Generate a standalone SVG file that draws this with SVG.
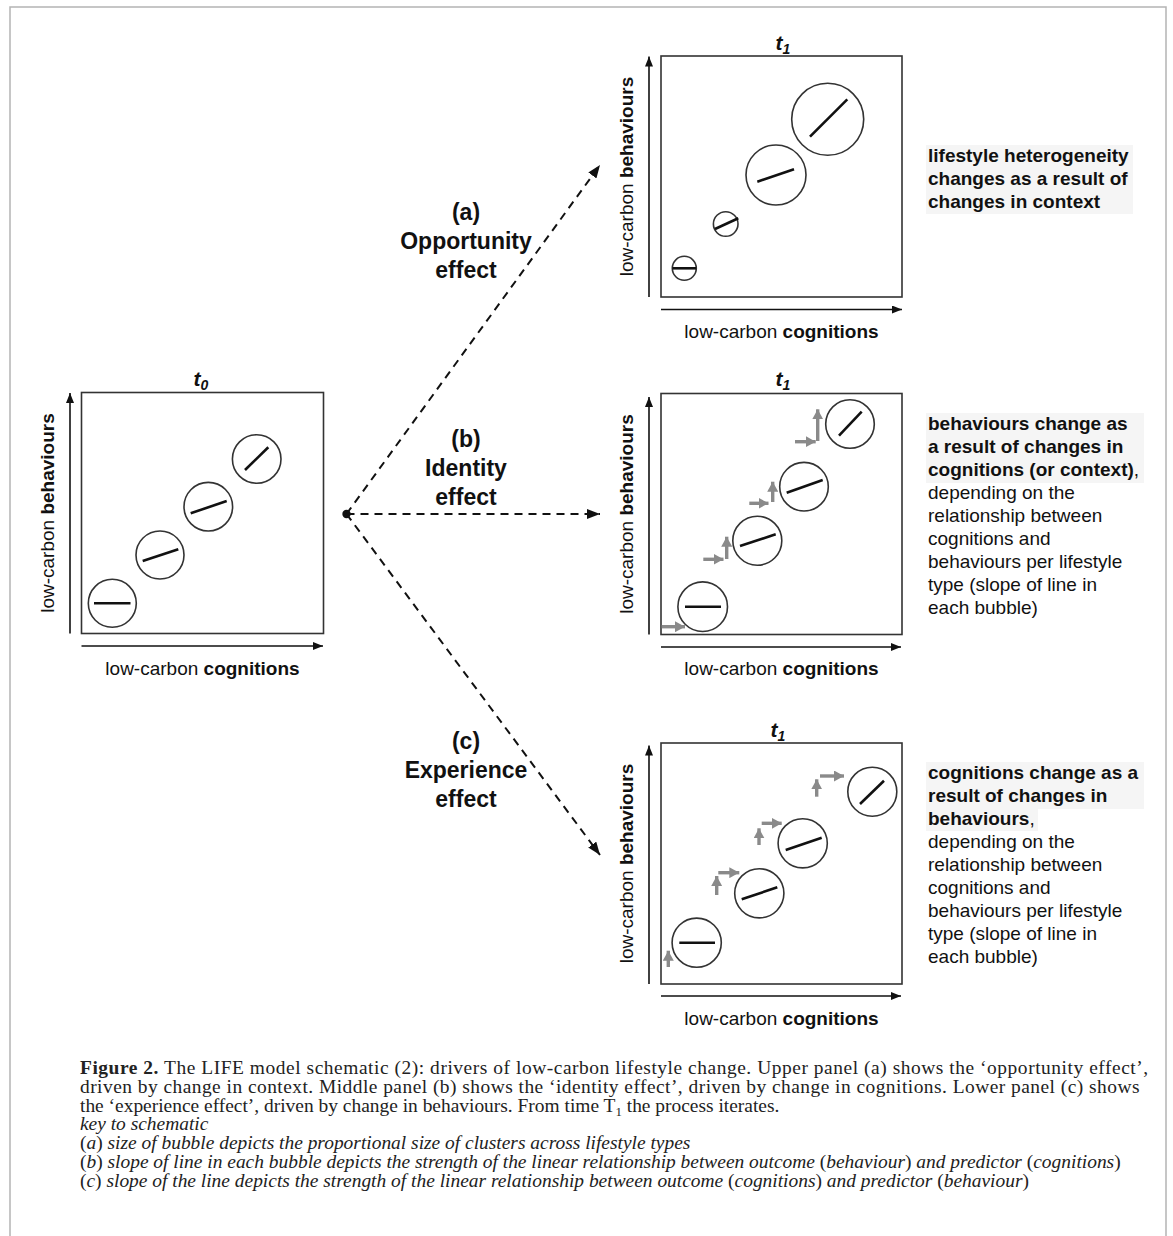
<svg xmlns="http://www.w3.org/2000/svg" width="1173" height="1236" viewBox="0 0 1173 1236">
<style>
  .frame { fill: none; stroke: #b4b4b4; stroke-width: 1.5; }
  .box { fill: none; stroke: #333; stroke-width: 1.6; }
  .axis { fill: none; stroke: #111; stroke-width: 1.6; marker-end: url(#axhead); }
  .bub { fill: none; stroke: #333; stroke-width: 1.6; }
  .slope { stroke: #111; stroke-width: 2.6; }
  .garr { stroke: #8a8a8a; stroke-width: 3.4; marker-end: url(#ghead); }
  .dash { fill: none; stroke: #111; stroke-width: 2; stroke-dasharray: 8 6; marker-end: url(#dhead); }
  .sans { font-family: "Liberation Sans", Arial, Helvetica, sans-serif; fill: #111; }
  .axl { font-size: 19px; }
  .eff { font-size: 23px; font-weight: bold; text-anchor: middle; }
  .tl { font-size: 21px; font-weight: bold; font-style: italic; text-anchor: middle; }
  .sub { font-size: 14px; }
  .desc { font-size: 19px; }
  .b { font-weight: bold; }
  .hl { fill: #f5f5f5; }
  .cap { font-family: "Liberation Serif", "Times New Roman", serif; font-size: 18px; fill: #222; }
  .it { font-style: italic; }
  .up { font-style: normal; }
</style>
<defs>
  <marker id="axhead" viewBox="0 0 10 8" refX="10" refY="4" markerWidth="10" markerHeight="8" markerUnits="userSpaceOnUse" orient="auto">
    <path d="M0,0 L10,4 L0,8 z" fill="#111"/>
  </marker>
  <marker id="dhead" viewBox="0 0 13 10" refX="13" refY="5" markerWidth="13" markerHeight="10" markerUnits="userSpaceOnUse" orient="auto">
    <path d="M0,0 L13,5 L0,10 z" fill="#111"/>
  </marker>
  <marker id="ghead" viewBox="0 0 10 11" refX="10" refY="5.5" markerWidth="10" markerHeight="11" markerUnits="userSpaceOnUse" orient="auto">
    <path d="M0,0 L10,5.5 L0,11 z" fill="#8a8a8a"/>
  </marker>
</defs>
<rect width="1173" height="1236" fill="#fff"/>
<path class="frame" d="M10,1236 L10,7 L1166,7 L1166,1236"/>

<!-- t0 panel -->
<g id="panel-t0">
  <rect class="box" x="81.5" y="392.5" width="242" height="241"/>
  <line class="axis" x1="70" y1="633.5" x2="70" y2="393"/>
  <line class="axis" x1="81.5" y1="646" x2="323" y2="646"/>
  <text class="sans tl" x="201" y="386">t<tspan class="sub" dy="4">0</tspan></text>
  <text class="sans axl" transform="translate(53.5,513) rotate(-90)" text-anchor="middle">low-carbon <tspan class="b">behaviours</tspan></text>
  <text class="sans axl" x="202.5" y="674.5" text-anchor="middle">low-carbon <tspan class="b">cognitions</tspan></text>
  <circle class="bub" cx="112.3" cy="603.3" r="24"/>
  <line class="slope" x1="94" y1="603.3" x2="130.5" y2="603.3"/>
  <circle class="bub" cx="160" cy="555" r="24"/>
  <line class="slope" x1="142.7" y1="561" x2="178.3" y2="549.3"/>
  <circle class="bub" cx="208.3" cy="506.7" r="24.3"/>
  <line class="slope" x1="190.7" y1="513.3" x2="226.7" y2="501"/>
  <circle class="bub" cx="256.7" cy="459" r="24.3"/>
  <line class="slope" x1="245" y1="470" x2="268.3" y2="447.3"/>
</g>

<!-- connectors -->
<g id="connectors">
  <circle cx="346.5" cy="514" r="4.2" fill="#111"/>
  <line class="dash" x1="346.5" y1="514" x2="600" y2="165"/>
  <line class="dash" x1="346.5" y1="514" x2="600" y2="514"/>
  <line class="dash" x1="346.5" y1="514" x2="600" y2="855"/>
</g>

<g id="label-a">
  <text class="sans eff" x="466" y="220">(a)</text>
  <text class="sans eff" x="466" y="249">Opportunity</text>
  <text class="sans eff" x="466" y="278">effect</text>
</g>
<g id="label-b">
  <text class="sans eff" x="466" y="447">(b)</text>
  <text class="sans eff" x="466" y="476">Identity</text>
  <text class="sans eff" x="466" y="505">effect</text>
</g>
<g id="label-c">
  <text class="sans eff" x="466" y="749">(c)</text>
  <text class="sans eff" x="466" y="778">Experience</text>
  <text class="sans eff" x="466" y="807">effect</text>
</g>

<!-- t1 (a) panel -->
<g id="panel-a">
  <rect class="box" x="661" y="56" width="241" height="241"/>
  <line class="axis" x1="649" y1="297" x2="649" y2="56.5"/>
  <line class="axis" x1="661" y1="309.5" x2="902" y2="309.5"/>
  <text class="sans tl" x="783" y="49.5">t<tspan class="sub" dy="4">1</tspan></text>
  <text class="sans axl" transform="translate(633,176.5) rotate(-90)" text-anchor="middle">low-carbon <tspan class="b">behaviours</tspan></text>
  <text class="sans axl" x="781.5" y="337.5" text-anchor="middle">low-carbon <tspan class="b">cognitions</tspan></text>
  <circle class="bub" cx="684.3" cy="268.3" r="12"/>
  <line class="slope" x1="672.5" y1="268.3" x2="696.2" y2="268.3"/>
  <circle class="bub" cx="725.7" cy="224" r="12.3"/>
  <line class="slope" x1="715" y1="229" x2="738.3" y2="218.3"/>
  <circle class="bub" cx="776" cy="175" r="30"/>
  <line class="slope" x1="757.3" y1="181.7" x2="794" y2="169.3"/>
  <circle class="bub" cx="827.7" cy="119.3" r="36"/>
  <line class="slope" x1="810" y1="136.7" x2="847.3" y2="99.3"/>
</g>
<g id="text-a">
  <rect class="hl" x="926" y="145" width="207" height="69"/>
  <text class="sans desc b" x="928" y="162">lifestyle heterogeneity</text>
  <text class="sans desc b" x="928" y="185">changes as a result of</text>
  <text class="sans desc b" x="928" y="208">changes in context</text>
</g>

<!-- t1 (b) panel -->
<g id="panel-b">
  <rect class="box" x="661" y="393.5" width="241" height="241"/>
  <line class="axis" x1="649" y1="634.5" x2="649" y2="397"/>
  <line class="axis" x1="661" y1="647" x2="901" y2="647"/>
  <text class="sans tl" x="783" y="386">t<tspan class="sub" dy="4">1</tspan></text>
  <text class="sans axl" transform="translate(633,514) rotate(-90)" text-anchor="middle">low-carbon <tspan class="b">behaviours</tspan></text>
  <text class="sans axl" x="781.5" y="675" text-anchor="middle">low-carbon <tspan class="b">cognitions</tspan></text>
  <circle class="bub" cx="702.7" cy="606.7" r="24.8"/>
  <line class="slope" x1="685" y1="606.7" x2="721" y2="606.7"/>
  <circle class="bub" cx="757.3" cy="540.7" r="24.5"/>
  <line class="slope" x1="740" y1="546" x2="775.7" y2="534.3"/>
  <circle class="bub" cx="804" cy="486.7" r="24.3"/>
  <line class="slope" x1="786.7" y1="492.7" x2="822.7" y2="480"/>
  <circle class="bub" cx="850" cy="424" r="24.3"/>
  <line class="slope" x1="839" y1="435.7" x2="861.7" y2="411.7"/>
  <line class="garr" x1="661.7" y1="626.7" x2="685" y2="626.7"/>
  <line class="garr" x1="703.3" y1="559.3" x2="723.5" y2="559.3"/>
  <line class="garr" x1="726.7" y1="559" x2="726.7" y2="536.7"/>
  <line class="garr" x1="749.3" y1="503.3" x2="768.5" y2="503.3"/>
  <line class="garr" x1="772.7" y1="502" x2="772.7" y2="481.7"/>
  <line class="garr" x1="795" y1="441.7" x2="815.7" y2="441.7"/>
  <line class="garr" x1="817.7" y1="441" x2="817.7" y2="409.3"/>
</g>
<g id="text-b">
  <rect class="hl" x="926" y="413" width="218" height="70"/>
  <text class="sans desc b" x="928" y="430">behaviours change as</text>
  <text class="sans desc b" x="928" y="453">a result of changes in</text>
  <text class="sans desc" x="928" y="476"><tspan class="b">cognitions (or context)</tspan>,</text>
  <text class="sans desc" x="928" y="499">depending on the</text>
  <text class="sans desc" x="928" y="522">relationship between</text>
  <text class="sans desc" x="928" y="545">cognitions and</text>
  <text class="sans desc" x="928" y="568">behaviours per lifestyle</text>
  <text class="sans desc" x="928" y="591">type (slope of line in</text>
  <text class="sans desc" x="928" y="614">each bubble)</text>
</g>

<!-- t1 (c) panel -->
<g id="panel-c">
  <rect class="box" x="661" y="743" width="241" height="241"/>
  <line class="axis" x1="649" y1="984" x2="649" y2="745.5"/>
  <line class="axis" x1="661" y1="996" x2="901" y2="996"/>
  <text class="sans tl" x="778" y="736.5">t<tspan class="sub" dy="4">1</tspan></text>
  <text class="sans axl" transform="translate(633,863.5) rotate(-90)" text-anchor="middle">low-carbon <tspan class="b">behaviours</tspan></text>
  <text class="sans axl" x="781.5" y="1025" text-anchor="middle">low-carbon <tspan class="b">cognitions</tspan></text>
  <circle class="bub" cx="696.7" cy="942.7" r="24.6"/>
  <line class="slope" x1="679.3" y1="942.7" x2="715" y2="942.7"/>
  <circle class="bub" cx="759.3" cy="893.3" r="24.6"/>
  <line class="slope" x1="741.7" y1="899.3" x2="777.3" y2="887.3"/>
  <circle class="bub" cx="802.7" cy="843.3" r="24.6"/>
  <line class="slope" x1="785.7" y1="850" x2="821.7" y2="837.7"/>
  <circle class="bub" cx="872.3" cy="791.7" r="24.5"/>
  <line class="slope" x1="860" y1="804" x2="884" y2="780.7"/>
  <line class="garr" x1="668.3" y1="967" x2="668.3" y2="950.7"/>
  <line class="garr" x1="716.7" y1="895" x2="716.7" y2="876"/>
  <line class="garr" x1="718.3" y1="872.7" x2="739.3" y2="872.7"/>
  <line class="garr" x1="759" y1="845" x2="759" y2="828.3"/>
  <line class="garr" x1="761.7" y1="823.3" x2="781.7" y2="823.3"/>
  <line class="garr" x1="816.7" y1="796.7" x2="816.7" y2="779.3"/>
  <line class="garr" x1="820" y1="776" x2="844" y2="776"/>
</g>
<g id="text-c">
  <rect class="hl" x="926" y="762" width="218" height="47"/>
  <rect class="hl" x="926" y="809" width="112" height="22"/>
  <text class="sans desc b" x="928" y="779">cognitions change as a</text>
  <text class="sans desc b" x="928" y="802">result of changes in</text>
  <text class="sans desc" x="928" y="825"><tspan class="b">behaviours</tspan>,</text>
  <text class="sans desc" x="928" y="848">depending on the</text>
  <text class="sans desc" x="928" y="871">relationship between</text>
  <text class="sans desc" x="928" y="894">cognitions and</text>
  <text class="sans desc" x="928" y="917">behaviours per lifestyle</text>
  <text class="sans desc" x="928" y="940">type (slope of line in</text>
  <text class="sans desc" x="928" y="963">each bubble)</text>
</g>

<!-- caption -->
<g id="caption" transform="translate(80,0) scale(1.08,1)">
  <text class="cap" x="0" y="1074" textLength="989" lengthAdjust="spacing"><tspan font-weight="bold">Figure 2.</tspan> The LIFE model schematic (2): drivers of low-carbon lifestyle change. Upper panel (a) shows the ‘opportunity effect’,</text>
  <text class="cap" x="0" y="1093" textLength="981" lengthAdjust="spacing">driven by change in context. Middle panel (b) shows the ‘identity effect’, driven by change in cognitions. Lower panel (c) shows</text>
  <text class="cap" x="0" y="1112">the ‘experience effect’, driven by change in behaviours. From time T<tspan font-size="12" dy="4">1</tspan><tspan dy="-4"> the process iterates.</tspan></text>
  <text class="cap it" x="0" y="1130">key to schematic</text>
  <text class="cap it" x="0" y="1149"><tspan class="up">(</tspan>a<tspan class="up">)</tspan> size of bubble depicts the proportional size of clusters across lifestyle types</text>
  <text class="cap it" x="0" y="1168"><tspan class="up">(</tspan>b<tspan class="up">)</tspan> slope of line in each bubble depicts the strength of the linear relationship between outcome <tspan class="up">(</tspan>behaviour<tspan class="up">)</tspan> and predictor <tspan class="up">(</tspan>cognitions<tspan class="up">)</tspan></text>
  <text class="cap it" x="0" y="1187"><tspan class="up">(</tspan>c<tspan class="up">)</tspan> slope of the line depicts the strength of the linear relationship between outcome <tspan class="up">(</tspan>cognitions<tspan class="up">)</tspan> and predictor <tspan class="up">(</tspan>behaviour<tspan class="up">)</tspan></text>
</g>
</svg>
